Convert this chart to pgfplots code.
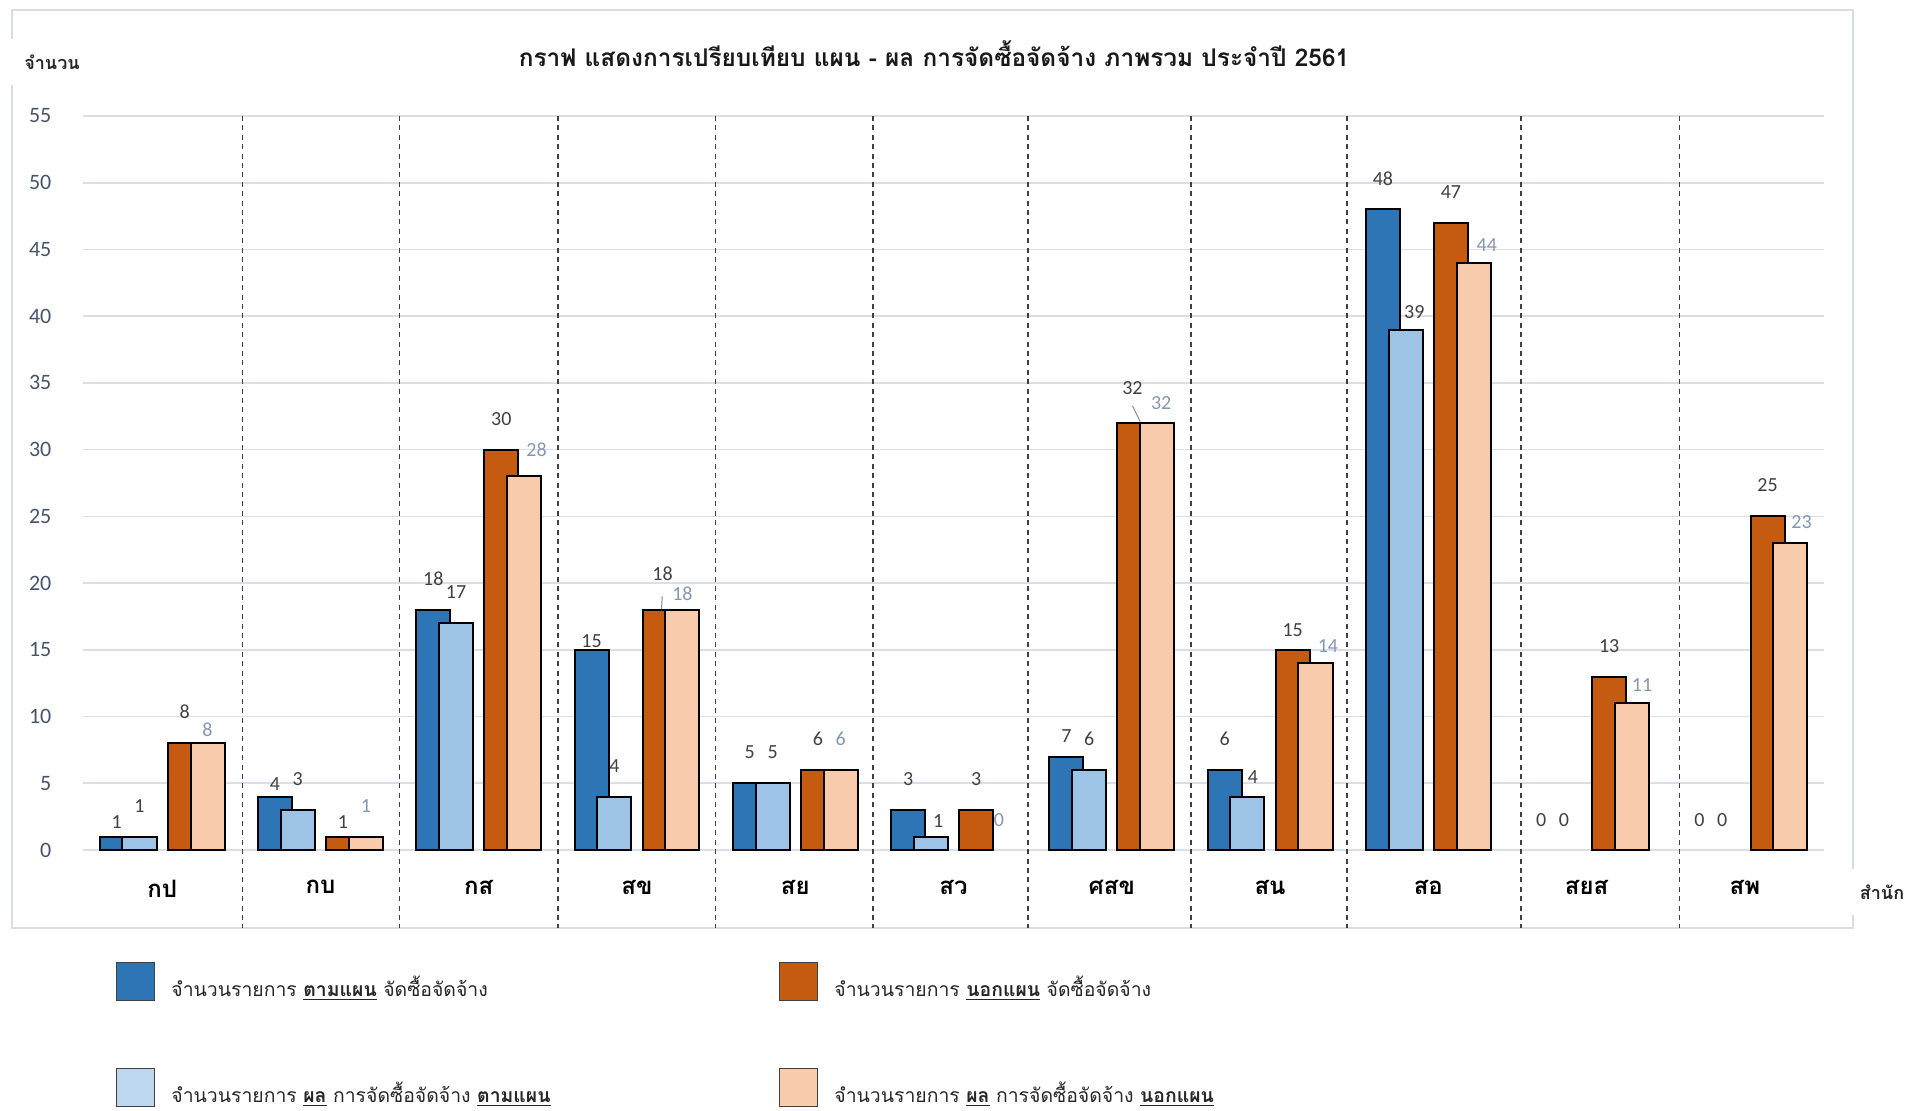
\documentclass[border=0pt]{standalone}
\usepackage{fontspec}
\setmainfont{Carlito}
\newfontfamily\thai[Script=Thai]{Loma}
\usepackage{pgfplots}
\usepackage{pgfplotstable}
\pgfplotsset{compat=1.18}

\definecolor{cDark}{HTML}{2E75B6}
\definecolor{cLight}{HTML}{9DC3E6}
\definecolor{cLightLeg}{HTML}{BDD7EE}
\definecolor{cOrange}{HTML}{C55A11}
\definecolor{cPeach}{HTML}{F8CBAD}
\definecolor{cGrid}{HTML}{D9DEE7}
\definecolor{cTick}{HTML}{44546A}
\definecolor{cLab}{HTML}{404040}
\definecolor{cLabPeach}{HTML}{8497B0}
\definecolor{cBorder}{HTML}{D9DCE1}

% x = category, y = value, dx/dy = label nudges (pt)
\pgfplotstableread{
x y dx dy
0 1 0 -8.1
1 4 0 -8.9
2 18 0 0
3 15 0 -11.1
4 5 0 0
5 3 0 0
6 7 0 -4.9
7 6 0 0
8 48 0 0
}\tPlan
\pgfplotstableread{
x y dx dy
0 8 0 0
1 1 0 -8.1
2 30 0 0
3 18 1.5 2.5
4 6 0 0
5 3 0 0
6 32 -1 1.9
7 15 0 -5.6
8 47 0 0
9 13 0 0
10 25 0 0
}\tOut
\pgfplotstableread{
x y dx dy
0 1 0 0
1 3 0 0
2 17 0 0
3 4 0 0
4 5 0 0
5 1 3.7 -7.4
6 6 0 0
7 4 2.8 -5.6
8 39 4.3 -6.8
}\tPlanRes
\pgfplotstableread{
x y dx dy
0 8 0 -8.6
1 1 0 0
2 28 6.2 -2.5
3 18 0 -7.4
4 6 0 0
6 32 2 -5.6
7 14 6.2 -6.8
8 44 6.5 -6.5
9 11 5 -6.2
10 23 5.6 -4.9
}\tOutRes

\pgfplotsset{
  barsty/.style={draw=black, line width=1pt,
    visualization depends on={\thisrow{dx}\as\dx},
    visualization depends on={\thisrow{dy}\as\dy},
    every node near coord/.append style={xshift=\dx pt, yshift=\dy pt}},
}

\begin{document}
\begin{tikzpicture}
\useasboundingbox (0pt,0pt) rectangle (963pt,-555.5pt);
\draw[cBorder, line width=0.8pt] (6pt,-5pt) rectangle (926.5pt,-464pt);

\begin{axis}[
  at={(41.5pt,-425pt)}, anchor=south west,
  scale only axis, width=870.5pt, height=367pt,
  xmin=-0.5, xmax=10.5, ymin=0, ymax=55,
  ybar, bar width=0.215,
  xtick={0,...,10},
  xticklabels={กป,กบ,กส,สข,สย,สว,ศสข,สน,สอ,สยส,สพ},
  ytick={0,5,...,55},
  axis line style={draw=none},
  major tick length=0pt,
  ymajorgrids, grid style={cGrid, line width=0.8pt},
  yticklabel style={font=\fontsize{11}{13}\selectfont, text=cTick, xshift=-12.3pt},
  xticklabel style={font=\thai\bfseries\fontsize{12}{14}\selectfont, yshift=-11.5pt},
  /pgf/number format/assume math mode=true,
  clip=false,
  nodes near coords,
  every node near coord/.append style={font=\fontsize{10}{12}\selectfont, text=cLab, yshift=8.3pt},
  legend image code/.code={\draw[#1, draw=black!75, line width=0.5pt] (0pt,-6.5pt) rectangle (19pt,12.5pt);},
  legend columns=2,
  legend cell align=left,
  legend style={at={(0.01895,-0.1526)}, anchor=north west, draw=none, fill=none,
    inner sep=0pt, column sep=0pt, row sep=33.5pt,
    nodes={inner sep=0pt, font=\thai\fontsize{9.7}{12}\selectfont, text=black!85}},
]
% category separators
\pgfplotsinvokeforeach{0.509,1.5,2.5,3.495,4.49,5.47,6.5,7.485,8.584,9.588}{
  \draw[cLab, dash pattern=on 2.5pt off 2.2pt, line width=0.8pt]
    (axis cs:#1,55) -- (axis cs:#1,-5.845);
}
% leader lines of moved labels
\draw[black!45, line width=0.5pt] (axis cs:3.155,18.05) -- (axis cs:3.16,19.0);
\draw[black!45, line width=0.5pt] (axis cs:6.18,32.1) -- (axis cs:6.13,33.3);

\addplot[fill=cDark, barsty, bar shift=-0.287] table[x=x,y=y] {\tPlan};
\addlegendentry{\hspace*{8pt}\makebox[304pt][l]{จำนวนรายการ \underline{\textbf{ตามแผน}} จัดซื้อจัดจ้าง}}
\addplot[fill=cOrange, barsty, bar shift=0.143] table[x=x,y=y] {\tOut};
\addlegendentry{\hspace*{8pt}\makebox[304pt][l]{จำนวนรายการ \underline{\textbf{นอกแผน}} จัดซื้อจัดจ้าง}}
\addplot[fill=cLight, barsty, bar shift=-0.143,
  legend image post style={fill=cLightLeg}] table[x=x,y=y] {\tPlanRes};
\addlegendentry{\hspace*{8pt}\makebox[304pt][l]{จำนวนรายการ \underline{\textbf{ผล}} การจัดซื้อจัดจ้าง \underline{\textbf{ตามแผน}}}}
\addplot[fill=cPeach, barsty, bar shift=0.287,
  every node near coord/.append style={text=cLabPeach}] table[x=x,y=y] {\tOutRes};
\addlegendentry{\hspace*{8pt}\makebox[304pt][l]{จำนวนรายการ \underline{\textbf{ผล}} การจัดซื้อจัดจ้าง \underline{\textbf{นอกแผน}}}}

% zero values: label only, no bar
\addplot[forget plot, draw=none, fill=none, bar shift=-0.287] coordinates {(9,0)(10,0)};
\addplot[forget plot, draw=none, fill=none, bar shift=-0.143] coordinates {(9,0)(10,0)};
\addplot[forget plot, draw=none, fill=none, bar shift=0.287,
  every node near coord/.append style={text=cLabPeach}] coordinates {(5,0)};
\end{axis}

\node[font=\thai\bfseries\fontsize{12.2}{15}\selectfont, text=black!90] at (467pt,-27pt)
  {กราฟ แสดงการเปรียบเทียบ แผน - ผล การจัดซื้อจัดจ้าง ภาพรวม ประจำปี 2561};
\node[font=\thai\bfseries\fontsize{9}{11}\selectfont, text=black!85, fill=white,
  inner xsep=8pt, inner ysep=8pt] at (26pt,-31pt) {จำนวน};
\node[font=\thai\bfseries\fontsize{9}{11}\selectfont, text=black!85, fill=white,
  inner xsep=6pt, inner ysep=8pt] at (941pt,-446pt) {สำนัก};
\end{tikzpicture}
\end{document}
